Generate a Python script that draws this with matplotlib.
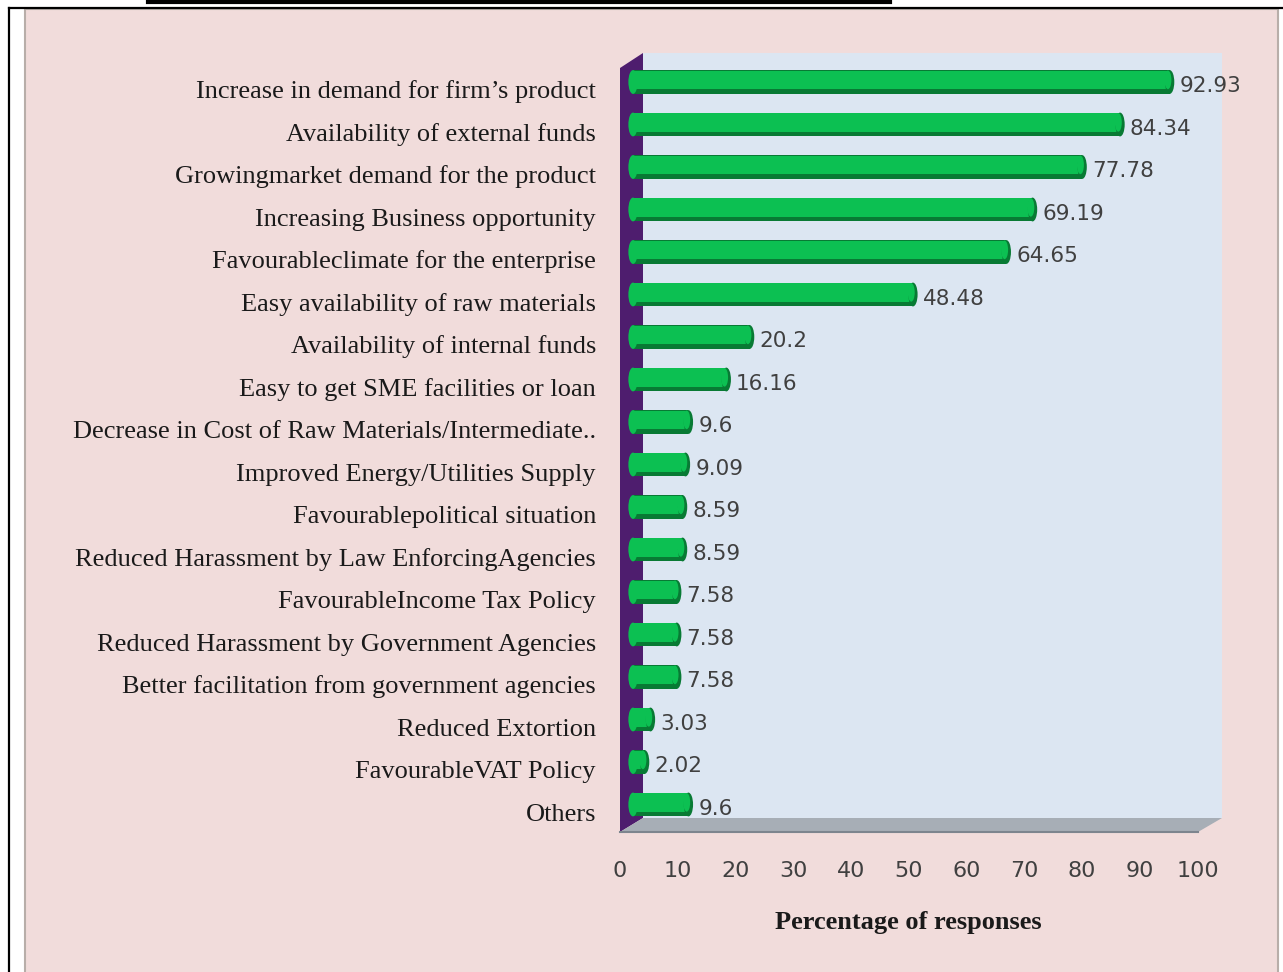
"""Horizontal 3D-style bar chart: factors favouring enterprise growth."""

import matplotlib

matplotlib.use("Agg")
import matplotlib.pyplot as plt
from matplotlib.patches import Ellipse, Polygon, Rectangle
from matplotlib.transforms import ScaledTranslation, blended_transform_factory

categories = [
    "Increase in demand for firm\u2019s product",
    "Availability of external funds",
    "Growingmarket demand for the product",
    "Increasing Business opportunity",
    "Favourableclimate for the enterprise",
    "Easy availability of raw materials",
    "Availability of internal funds",
    "Easy to get SME facilities or loan",
    "Decrease in Cost of Raw Materials/Intermediate..",
    "Improved Energy/Utilities Supply",
    "Favourablepolitical situation",
    "Reduced Harassment by Law EnforcingAgencies",
    "FavourableIncome Tax Policy",
    "Reduced Harassment by Government Agencies",
    "Better facilitation from government agencies",
    "Reduced Extortion",
    "FavourableVAT Policy",
    "Others",
]
values = [92.93, 84.34, 77.78, 69.19, 64.65, 48.48, 20.2, 16.16, 9.6,
          9.09, 8.59, 8.59, 7.58, 7.58, 7.58, 3.03, 2.02, 9.6]
x_ticks = [0, 10, 20, 30, 40, 50, 60, 70, 80, 90, 100]
x_label = "Percentage of responses"

W, H = 1283, 972
PINK = "#F1DCDB"
WALL = "#DCE6F2"
PURPLE = "#4E1D6E"
FLOOR = "#A7AEB6"
GREEN = "#0CC052"
GREEN_DARK = "#087A34"
TEXT = "#1A1A1A"
NUM = "#404040"


def fx(px):
    return px / W


def fy(py):
    return 1 - py / H


fig = plt.figure(figsize=(W / 100, H / 100), dpi=100)
fig.patch.set_facecolor("white")

# background layer in pixel coordinates
bg = fig.add_axes([0, 0, 1, 1], zorder=-1)
bg.set_xlim(0, W)
bg.set_ylim(H, 0)
bg.axis("off")
bg.add_patch(Rectangle((25, 9), 1253, 980, facecolor=PINK, edgecolor="#B8AEA9", lw=1.5))
bg.plot([9, W], [8, 8], color="black", lw=1.6)
bg.plot([9, 9], [8, H], color="black", lw=1.6)
bg.plot([148, 890], [2, 2], color="black", lw=3)
# side wall and floor of the 3D box
bg.add_patch(Polygon([(620, 68), (643, 53), (643, 818), (620, 832)], closed=True,
                     facecolor=PURPLE, edgecolor="none"))
bg.add_patch(Polygon([(620, 832), (643, 818), (1222, 818), (1198, 832)], closed=True,
                     facecolor=FLOOR, edgecolor="none"))
bg.plot([620, 1198], [832, 832], color="#7D858E", lw=1.5)

# back wall = data axes; 0 % sits at pixel 633, one unit is 5.775 px
x0_px, unit_px = 633, 5.775
row0_px, row_px = 82, 42.5
ax = fig.add_axes([fx(643), fy(818), fx(1222) - fx(643), fy(53) - fy(818)], zorder=1)
ax.set_facecolor(WALL)
ax.set_xlim((643 - x0_px) / unit_px, (1222 - x0_px) / unit_px)
ax.set_ylim((818 - row0_px) / row_px, (53 - row0_px) / row_px)
for s in ax.spines.values():
    s.set_visible(False)
ax.set_xticks([])
ax.set_yticks([])

rows = list(range(len(categories)))
h = 0.56
ax.barh(rows, values, height=h, color=GREEN_DARK, clip_on=False, zorder=2)
ax.barh([r - 0.05 for r in rows], values, height=h * 0.78, color=GREEN,
        clip_on=False, zorder=3)
for r, v in zip(rows, values):
    ax.add_patch(Ellipse((v, r), 1.6, h, facecolor=GREEN_DARK, edgecolor="none",
                         clip_on=False, zorder=4))
    ax.add_patch(Ellipse((v - 0.3, r - 0.05), 1.2, h * 0.78, facecolor=GREEN,
                         edgecolor="none", clip_on=False, zorder=4.5))
    ax.add_patch(Ellipse((0, r), 1.6, h, facecolor=GREEN, edgecolor="none",
                         clip_on=False, zorder=4))
    ax.text(v + 1.7, r + 0.1, f"{v:g}", ha="left", va="center", fontsize=15.5,
            family="DejaVu Sans", color=NUM, zorder=5)

# category labels, right aligned left of the side wall
lab_tr = blended_transform_factory(ax.transAxes, ax.transData) + \
    ScaledTranslation(0, -0.10, fig.dpi_scale_trans)
for r, c in zip(rows, categories):
    ax.text((596 - 643) / (1222 - 643), r, c, ha="right", va="center",
            fontsize=19, family="Liberation Serif", color=TEXT, transform=lab_tr,
            clip_on=False)

# x tick labels sit 13 px left of the bar scale (3D front plane)
tick_tr = blended_transform_factory(ax.transData, ax.transAxes) + \
    ScaledTranslation(-0.13, 0, fig.dpi_scale_trans)
for t in x_ticks:
    ax.text(t, -(871 - 818) / (818 - 53), str(t), ha="center", va="center",
            fontsize=16, family="DejaVu Sans", color=NUM, transform=tick_tr,
            clip_on=False)

fig.text(fx(908), fy(922), x_label, ha="center", va="center", fontsize=19,
         fontweight="bold", family="Liberation Serif", color=TEXT)

fig.savefig("out.png", dpi=100, facecolor=fig.get_facecolor())
